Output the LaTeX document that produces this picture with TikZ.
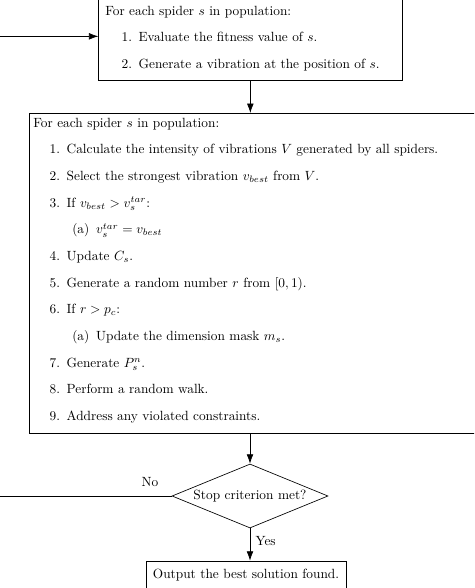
\documentclass[tikz,border=0pt]{standalone}
\usetikzlibrary{shapes.geometric,arrows.meta}
\begin{document}
\begin{tikzpicture}[x=0.75pt,y=-0.75pt,
  line width=0.5pt,
  >={Latex[length=7pt,width=5pt]},
  box/.style={draw, rectangle, inner ysep=0pt, anchor=north west},
  decision/.style={draw, diamond, aspect=2.4, inner sep=0pt, minimum width=117pt, minimum height=48pt},
  outbox/.style={draw, rectangle, inner sep=0pt, minimum width=150pt, minimum height=21pt},
  lbl/.style={inner sep=0pt}]
\useasboundingbox (0,0) rectangle (474,588);
\begin{scope}
\clip (0,0) rectangle (474,588);
\node[box, inner xsep=5pt] (eval) at (98.3,-8) {\begin{minipage}[t][66pt][t]{217.55pt}\vspace*{10.2pt}For each spider $s$ in population:
\begin{enumerate}
\item Evaluate the fitness value of $s$.
\item Generate a vibration at the position of $s$.
\end{enumerate}
\end{minipage}};
\node[box, inner xsep=3pt] (move) at (29,113) {\begin{minipage}[t][240pt][t]{329.25pt}\vspace*{3.46pt}For each spider $s$ in population:
\begin{enumerate}
\item Calculate the intensity of vibrations $V$ generated by all spiders.
\item Select the strongest vibration $v_{best}$ from $V$.
\item If $v_{best} > v_s^{tar}$:
  \begin{enumerate}\item $v_s^{tar} = v_{best}$\end{enumerate}
\item Update $C_s$.
\item Generate a random number $r$ from $[0,1)$.
\item If $r > p_c$:
  \begin{enumerate}\item Update the dimension mask $m_s$.\end{enumerate}
\item Generate $P_s^n$.
\item Perform a random walk.
\item Address any violated constraints.
\end{enumerate}
\end{minipage}};
\node[decision] (stop) at (250,496) {Stop criterion met?};
\node[outbox] (out) at (246,575) {Output the best solution found.};
\node[lbl] (no) at (150,482) {No};
\coordinate (loopB) at (-10,496);
\draw[->] (eval.south) -- (eval.south |- move.north);
\draw[->] (move.south -| stop.north) -- (stop.north);
\draw[->] (stop.south) -- node[pos=0.4, right, inner sep=4pt] (yes) {Yes} (out.north -| stop.south);
\draw[->] (stop.west) -- (loopB) |- (eval.west);
\end{scope}
\end{tikzpicture}
\end{document}
